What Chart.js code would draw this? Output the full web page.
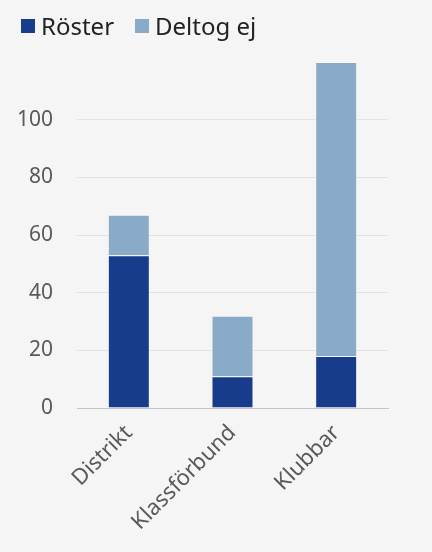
<!DOCTYPE html>
<html>
<head>
<meta charset="utf-8">
<script src="https://cdn.jsdelivr.net/npm/chart.js@4"></script>
<style>
  html, body { margin: 0; padding: 0; background: #f5f5f5; }
  #wrap { width: 432px; height: 552px; position: relative; }
  #legend { position: absolute; left: 21px; top: 9px; display: flex; font-family: 'Noto Sans', sans-serif; font-size: 24px; color: #222; }
  #legend .item { display: flex; align-items: center; margin-right: 21px; }
  #legend .box { width: 14px; height: 14px; margin-right: 6px; }
</style>
</head>
<body>
<div id="wrap">
  <canvas id="votes"></canvas>
  <div id="legend"></div>
</div>
<script>
const categories = ['Distrikt', 'Klassförbund', 'Klubbar'];
const roster = [53, 11, 18];
const deltogEj = [14, 21, 102];
const yTicks = [0, 20, 40, 60, 80, 100];

const seriesColors = ['#173c8c', '#8aabc7'];

const ctx = document.getElementById('votes').getContext('2d');
const chart = new Chart(ctx, {
  type: 'bar',
  data: {
    labels: categories,
    datasets: [
      {
        label: 'Röster',
        data: roster,
        backgroundColor: seriesColors[0],
        borderColor: 'rgba(255,255,255,0.25)',
        borderWidth: 1
      },
      {
        label: 'Deltog ej',
        data: deltogEj,
        backgroundColor: seriesColors[1],
        borderColor: 'rgba(255,255,255,0.25)',
        borderWidth: 1
      }
    ]
  },
  options: {
    responsive: true,
    maintainAspectRatio: false,
    animation: false,
    barPercentage: 0.81,
    categoryPercentage: 0.5,
    layout: { padding: { left: 0, right: 44, top: 62, bottom: 0 } },
    plugins: {
      tooltip: { enabled: false },
      legend: { display: false }
    },
    scales: {
      x: {
        stacked: true,
        afterFit: axis => { axis.height = 144; },
        grid: { display: false },
        border: { color: '#c4c4c4', width: 1 },
        ticks: {
          color: '#595959',
          minRotation: 45,
          maxRotation: 45,
          padding: 4,
          font: { family: 'Noto Sans', size: 22 }
        }
      },
      y: {
        stacked: true,
        min: 0,
        max: 120,
        afterBuildTicks: axis => {
          axis.ticks = yTicks.map(v => ({ value: v }));
        },
        afterFit: axis => { axis.width = 77; },
        grid: { color: '#e3e3e3', drawTicks: false },
        border: { display: false },
        ticks: {
          color: '#595959',
          padding: 24,
          font: { family: 'Noto Sans', size: 21 }
        }
      }
    }
  }
});

// legend drawn as html from the datasets
const legendEl = document.getElementById('legend');
chart.data.datasets.forEach(ds => {
  const item = document.createElement('div');
  item.className = 'item';
  const box = document.createElement('span');
  box.className = 'box';
  box.style.background = ds.backgroundColor;
  const text = document.createElement('span');
  text.textContent = ds.label;
  item.appendChild(box);
  item.appendChild(text);
  legendEl.appendChild(item);
});
</script>
</body>
</html>
